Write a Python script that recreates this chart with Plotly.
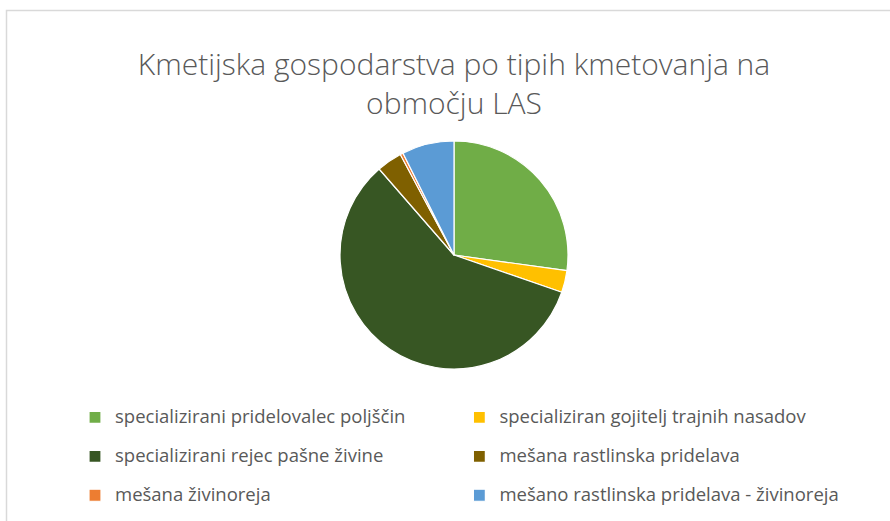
import plotly.graph_objects as go

title_text = "Kmetijska gospodarstva po tipih kmetovanja na<br>območju LAS"
categories = [
    "specializirani pridelovalec poljščin",
    "specializiran gojitelj trajnih nasadov",
    "specializirani rejec pašne živine",
    "mešana rastlinska pridelava",
    "mešana živinoreja",
    "mešano rastlinska pridelava - živinoreja",
]
shares = [27.2, 3.1, 58.3, 3.6, 0.4, 7.4]
colors = ["#70AD47", "#FFC000", "#375623", "#7F6000", "#ED7D31", "#5B9BD5"]

W, H = 890, 521
legend_labels = ['<span style="font-size:18.5px">' + c + "</span><br> " for c in categories]

fig = go.Figure(go.Pie(
    labels=legend_labels,
    values=shares,
    sort=False,
    direction="clockwise",
    rotation=0,
    marker=dict(colors=colors, line=dict(color="white", width=1.2)),
    textinfo="none",
    hoverinfo="percent",
    domain=dict(x=[340 / W, 568 / W], y=[1 - 369 / H, 1 - 141 / H]),
))

fig.update_layout(
    width=W, height=H,
    margin=dict(l=0, r=0, t=0, b=0, autoexpand=False),
    paper_bgcolor="white",
    plot_bgcolor="white",
    font=dict(family="Open Sans, sans-serif", color="#595959"),
    title=dict(
        text=title_text,
        x=454 / W, xanchor="center",
        y=1 - 75 / H, yanchor="top",
        font=dict(size=30, color="#595959", family="Open Sans, sans-serif", weight=300),
    ),
    legend=dict(
        orientation="h",
        x=75 / W, xanchor="left",
        y=1 - 402 / H, yanchor="top",
        font=dict(size=13.8, color="#595959"),
        valign="top",
        bgcolor="rgba(0,0,0,0)",
    ),
    shapes=[dict(
        type="rect", xref="paper", yref="paper",
        x0=6.5 / W, x1=1.02, y0=-0.02, y1=1 - 10.5 / H,
        line=dict(color="#D9D9D9", width=1.5),
        fillcolor="rgba(0,0,0,0)", layer="below",
    )],
)

fig.write_html("out.html")
